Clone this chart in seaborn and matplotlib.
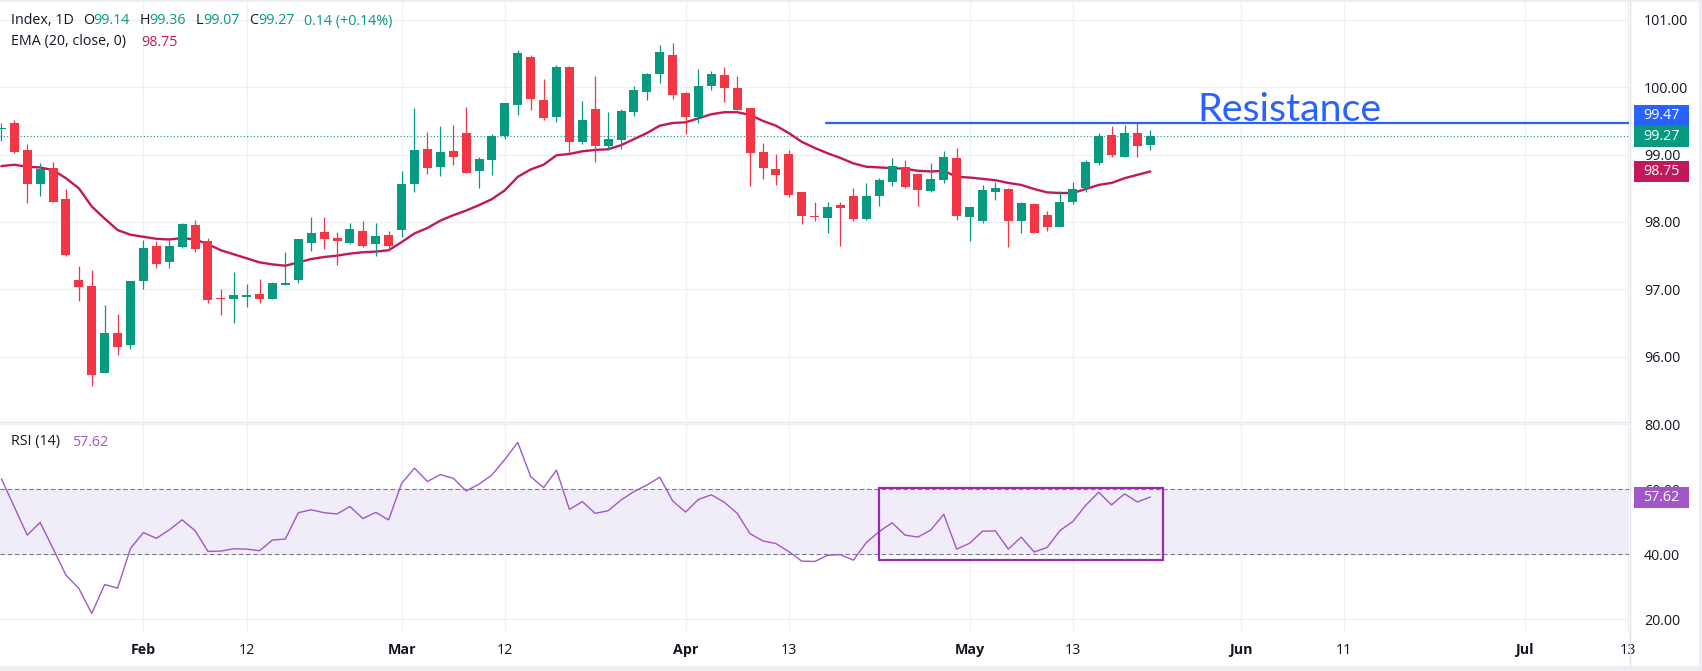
import numpy as np
import pandas as pd
import seaborn as sns
import matplotlib.pyplot as plt
from matplotlib.patches import Rectangle
from matplotlib.lines import Line2D

# daily bars (business days), first bar is only half on screen
start_day = '2026-01-16'

opens = [99.38, 99.47, 99.07, 98.57, 98.80, 98.34, 97.14, 97.05, 95.75, 96.35,
         96.17, 97.13, 97.64, 97.40, 97.63, 97.95, 97.71, 96.87, 96.85, 96.88,
         96.93, 96.86, 97.07, 97.14, 97.69, 97.85, 97.76, 97.69, 97.87, 97.68,
         97.80, 97.88, 98.57, 99.08, 98.81, 99.05, 99.32, 98.75, 98.92, 99.27,
         99.74, 100.45, 99.81, 99.56, 100.30, 99.19, 99.68, 99.13, 99.22, 99.63,
         99.93, 100.20, 100.48, 99.92, 99.56, 100.02, 100.18, 99.99, 99.69, 99.04,
         98.79, 99.01, 98.45, 98.09, 98.06, 98.25, 98.39, 98.04, 98.38, 98.60,
         98.82, 98.71, 98.46, 98.62, 98.95, 98.08, 98.02, 98.45, 98.49, 98.02,
         98.27, 98.10, 97.93, 98.30, 98.51, 98.87, 99.29, 98.97, 99.32, 99.14]
highs = [99.47, 99.51, 99.16, 98.87, 98.89, 98.49, 97.34, 97.29, 96.77, 96.64,
         97.12, 97.73, 97.71, 97.73, 97.99, 98.03, 97.76, 97.00, 97.26, 97.08,
         97.15, 97.11, 97.55, 97.74, 98.07, 98.07, 97.85, 97.98, 98.01, 97.98,
         97.86, 98.76, 99.70, 99.34, 99.43, 99.44, 99.71, 98.97, 99.30, 99.77,
         100.55, 100.48, 100.12, 100.33, 100.32, 99.80, 100.17, 99.63, 99.68, 100.02,
         100.21, 100.63, 100.66, 99.93, 100.27, 100.24, 100.30, 100.17, 99.69, 99.17,
         99.01, 99.07, 98.45, 98.29, 98.30, 98.30, 98.50, 98.58, 98.65, 98.95,
         98.92, 98.71, 98.88, 99.05, 99.10, 98.22, 98.55, 98.59, 98.50, 98.30,
         98.28, 98.16, 98.46, 98.59, 98.92, 99.32, 99.43, 99.44, 99.49, 99.36]
lows = [99.20, 99.02, 98.28, 98.39, 98.29, 97.50, 96.82, 95.56, 95.75, 96.02,
        96.12, 97.01, 97.31, 97.32, 97.62, 97.56, 96.80, 96.62, 96.50, 96.74,
        96.80, 96.86, 97.06, 97.10, 97.57, 97.60, 97.36, 97.68, 97.63, 97.50,
        97.58, 97.78, 98.45, 98.71, 98.68, 98.85, 98.73, 98.51, 98.70, 99.23,
        99.59, 99.66, 99.51, 99.48, 99.01, 99.16, 98.89, 99.07, 99.08, 99.57,
        99.81, 100.06, 99.83, 99.31, 99.47, 99.96, 99.78, 99.66, 98.53, 98.64,
        98.55, 98.37, 97.97, 98.01, 97.84, 97.65, 98.01, 98.03, 98.23, 98.54,
        98.50, 98.23, 98.45, 98.58, 98.03, 97.72, 97.99, 98.32, 97.63, 97.83,
        97.84, 97.86, 97.92, 98.27, 98.44, 98.85, 98.96, 98.96, 98.97, 99.07]
closes = [99.40, 99.04, 98.56, 98.78, 98.29, 97.51, 97.04, 95.73, 96.35, 96.15,
          97.12, 97.61, 97.38, 97.64, 97.97, 97.60, 96.84, 96.86, 96.92, 96.91,
          96.85, 97.09, 97.10, 97.74, 97.83, 97.75, 97.72, 97.90, 97.64, 97.79,
          97.64, 98.56, 99.07, 98.80, 99.04, 98.96, 98.73, 98.94, 99.28, 99.77,
          100.51, 99.82, 99.54, 100.30, 99.19, 99.51, 99.13, 99.23, 99.65, 99.96,
          100.20, 100.52, 99.89, 99.56, 100.02, 100.20, 99.99, 99.66, 99.02, 98.80,
          98.70, 98.40, 98.09, 98.08, 98.22, 98.21, 98.04, 98.39, 98.62, 98.83,
          98.52, 98.48, 98.64, 98.97, 98.09, 98.22, 98.48, 98.50, 98.02, 98.28,
          97.84, 97.93, 98.30, 98.49, 98.89, 99.28, 98.99, 99.32, 99.13, 99.27]
ema20 = [98.83, 98.85, 98.82, 98.81, 98.77, 98.65, 98.50, 98.23, 98.05, 97.88,
         97.81, 97.78, 97.75, 97.74, 97.76, 97.74, 97.67, 97.58, 97.52, 97.46,
         97.40, 97.37, 97.35, 97.40, 97.45, 97.48, 97.50, 97.53, 97.55, 97.56,
         97.58, 97.70, 97.83, 97.91, 98.02, 98.10, 98.17, 98.25, 98.34, 98.47,
         98.67, 98.78, 98.85, 98.99, 99.01, 99.05, 99.07, 99.08, 99.14, 99.23,
         99.32, 99.43, 99.47, 99.48, 99.54, 99.60, 99.63, 99.63, 99.59, 99.50,
         99.43, 99.32, 99.19, 99.10, 99.02, 98.95, 98.87, 98.82, 98.81, 98.80,
         98.79, 98.76, 98.75, 98.76, 98.67, 98.66, 98.64, 98.62, 98.58, 98.55,
         98.49, 98.44, 98.43, 98.43, 98.49, 98.55, 98.58, 98.65, 98.70, 98.75]
rsi14 = [63.2, 54.6, 45.9, 49.8, 41.8, 33.6, 29.5, 21.8, 30.7, 29.6,
         41.8, 46.7, 44.9, 47.5, 50.6, 47.3, 40.9, 41.0, 41.7, 41.6,
         41.1, 44.4, 44.7, 52.8, 53.7, 52.8, 52.4, 54.7, 51.0, 52.9,
         50.6, 61.8, 66.5, 62.4, 64.5, 63.4, 59.5, 61.6, 64.4, 69.2,
         74.4, 63.9, 60.5, 65.9, 53.8, 56.2, 52.6, 53.4, 56.7, 59.3,
         61.3, 63.7, 56.4, 53.0, 56.9, 58.3, 56.0, 52.6, 46.3, 44.1,
         43.3, 40.8, 37.9, 37.8, 39.7, 39.9, 38.2, 43.6, 47.0, 49.7,
         45.9, 45.3, 47.5, 52.3, 41.6, 43.4, 47.1, 47.2, 41.6, 45.3,
         40.7, 42.1, 47.3, 50.1, 55.1, 59.1, 55.2, 58.6, 56.1, 57.62]

tick_days = ['2026-02-02', '2026-02-12', '2026-03-02', '2026-03-12', '2026-04-01', '2026-04-13',
             '2026-05-01', '2026-05-13', '2026-06-01', '2026-06-11', '2026-07-01', '2026-07-13']
tick_names = ['Feb', '12', 'Mar', '12', 'Apr', '13', 'May', '13', 'Jun', '11', 'Jul', '13']
price_ticks = [96, 97, 98, 99, 100, 101]
rsi_ticks = [20, 40, 60, 80]

resistance = 99.47
rsi_box = (38.3, 60.5)   # rsi range of the drawn box

GREEN = '#089981'
RED = '#f23645'
EMA_C = '#c2185b'
RSI_C = '#a157c9'
BLUE = '#2962ff'
GRID = '#eef0f4'
TXT = '#131722'
LINE = '#e0e3eb'
FS = 10.3

sns.set_theme(style='white')
plt.rcParams['font.family'] = ['Open Sans', 'DejaVu Sans']

W, H = 1702, 671
fig = plt.figure(figsize=(W / 100, H / 100), dpi=100)
fig.patch.set_facecolor('white')
ax = fig.add_axes([0, 1 - 421 / H, 1629 / W, 419 / H])
ax_rsi = fig.add_axes([0, 1 - 632 / H, 1629 / W, 210 / H], sharex=ax)

days = pd.bdate_range(start_day, periods=140)
x = np.arange(len(closes))
tick_pos = days.get_indexer(pd.to_datetime(tick_days))

o, h, l, c = map(np.array, (opens, highs, lows, closes))
cols = np.where(c >= o, GREEN, RED)

# price pane
ax.vlines(x, l, h, colors=cols, lw=0.9, zorder=3)
ax.bar(x, np.maximum(np.abs(c - o), 0.012), bottom=np.minimum(o, c), width=0.7,
       color=cols, linewidth=0, zorder=4)
sns.lineplot(x=x, y=ema20, ax=ax, color=EMA_C, lw=1.7, zorder=2)
ax.axhline(closes[-1], color=GREEN, ls=(0, (1, 2)), lw=0.8, zorder=1)

res_x0 = 63.87
ax.plot([res_x0, 130], [resistance, resistance], color=BLUE, lw=1.6, zorder=5)
ax.text(92.66, 99.493, 'Resistance', color=BLUE, fontsize=28.4, va='baseline', ha='left',
        family=['Lato', 'DejaVu Sans'])

ax.set_xlim(-0.108, 126.08)
ax.set_ylim(95.044, 101.267)
ax.set_yticks(price_ticks)
ax.set_yticklabels([f'{v:.2f}' for v in price_ticks])
ax.yaxis.tick_right()
ax.tick_params(axis='y', length=0, pad=10.8, labelsize=FS, labelcolor=TXT)
ax.tick_params(axis='x', length=0, labelbottom=False)
ax.set_xticks(tick_pos)
ax.grid(True, color=GRID, lw=0.9)
ax.set_axisbelow(True)
ax.set_xlabel('')
ax.set_ylabel('')

# rsi pane
ax_rsi.axhspan(40, 60, color='#f0ecf8', zorder=0, lw=0)
ax_rsi.axhline(60, color='#787b86', ls=(0, (4, 2.5)), lw=0.8, zorder=1)
ax_rsi.axhline(40, color='#787b86', ls=(0, (4, 2.5)), lw=0.8, zorder=1)
sns.lineplot(x=x, y=rsi14, ax=ax_rsi, color=RSI_C, lw=1.0, zorder=3)
ax_rsi.add_patch(Rectangle((67.98, rsi_box[0]), 89.96 - 67.98, rsi_box[1] - rsi_box[0],
                           fill=False, edgecolor='#9c27b0', lw=1.6, zorder=4))

ax_rsi.set_ylim(16.1, 80.7)
ax_rsi.set_yticks(rsi_ticks)
ax_rsi.set_yticklabels([f'{v:.2f}' for v in rsi_ticks])
ax_rsi.yaxis.tick_right()
ax_rsi.tick_params(axis='y', length=0, pad=10.8, labelsize=FS, labelcolor=TXT)
ax_rsi.set_xticks(tick_pos)
ax_rsi.set_xticklabels(tick_names)
ax_rsi.tick_params(axis='x', length=0, pad=8, labelsize=FS, labelcolor=TXT)
for lab in ax_rsi.get_xticklabels():
    if lab.get_text().isalpha():
        lab.set_fontweight('bold')
ax_rsi.grid(True, color=GRID, lw=0.9)
ax_rsi.set_axisbelow(True)
ax_rsi.set_xlabel('')
ax_rsi.set_ylabel('')

for a in (ax, ax_rsi):
    for s in a.spines.values():
        s.set_visible(False)


def fx(px):
    return px / W


def fy(py):
    return 1 - py / H


# pane separators and outer frame
fig.add_artist(Line2D([0, fx(1629)], [fy(421.5), fy(421.5)], color=LINE, lw=1))
fig.add_artist(Line2D([fx(1629.5), fx(1629.5)], [fy(0), fy(666)], color=LINE, lw=1))
for (x0, y0, w, hh) in [(0, 0, W, 2), (0, 666, W, 5), (1699, 0, 3, H)]:
    fig.add_artist(Rectangle((fx(x0), fy(y0 + hh)), w / W, hh / H, transform=fig.transFigure,
                             color='#eceef2', lw=0))


def price_px(a, v):
    return H - a.transData.transform((0, v))[1]


def badge(center_px, color, label):
    fig.add_artist(Rectangle((fx(1634), fy(center_px + 10.5)), 55 / W, 21 / H,
                             transform=fig.transFigure, color=color, lw=0, zorder=4))
    fig.text(fx(1643), fy(center_px), label, color='white', fontsize=FS,
             va='center', ha='left', zorder=5)


close_px = price_px(ax, closes[-1])
badge(close_px, GREEN, f'{closes[-1]:.2f}')
badge(close_px - 21, BLUE, f'{resistance:.2f}')
badge(price_px(ax, ema20[-1]), EMA_C, f'{ema20[-1]:.2f}')
badge(price_px(ax_rsi, rsi14[-1]), RSI_C, f'{rsi14[-1]:.2f}')

# legend-style header texts
hdr = [(11, 'Index, 1D', TXT), (83, 'O', TXT), (93.5, f'{opens[-1]:.2f}', GREEN),
       (140, 'H', TXT), (149.5, f'{highs[-1]:.2f}', GREEN), (196, 'L', TXT),
       (203, f'{lows[-1]:.2f}', GREEN), (249, 'C', TXT), (258.5, f'{closes[-1]:.2f}', GREEN),
       (304, '0.14 (+0.14%)', GREEN)]
for px, s, colr in hdr:
    fig.text(fx(px), fy(21), s, color=colr, fontsize=FS, va='center', ha='left')
fig.text(fx(11), fy(42), 'EMA (20, close, 0)', color=TXT, fontsize=FS, va='center')
fig.text(fx(141), fy(42), f'{ema20[-1]:.2f}', color=EMA_C, fontsize=FS, va='center')
fig.text(fx(11), fy(442), 'RSI (14)', color=TXT, fontsize=FS, va='center')
fig.text(fx(72), fy(442), f'{rsi14[-1]:.2f}', color=RSI_C, fontsize=FS, va='center')

fig.savefig('out.png', dpi=100, facecolor='white')
